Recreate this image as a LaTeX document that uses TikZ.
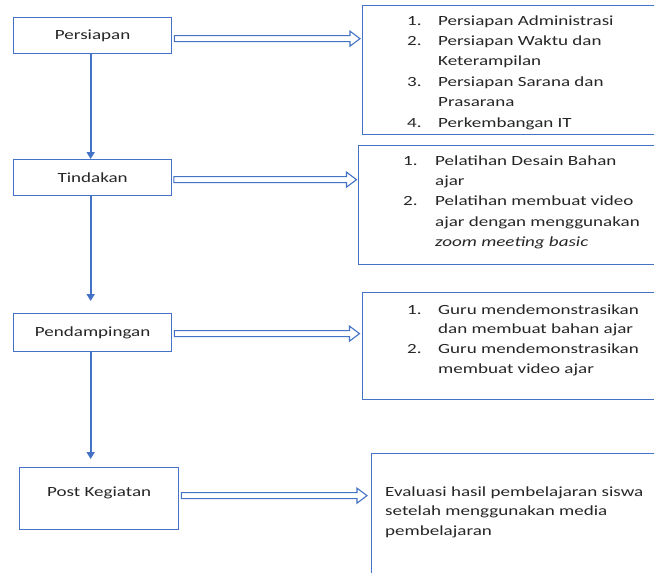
\documentclass[tikz,border=0pt]{standalone}
\usepackage{fontspec}
\setmainfont[FakeStretch=1.36]{Carlito}
\usetikzlibrary{calc,arrows.meta}
\definecolor{ob}{HTML}{4472C4}
\definecolor{txtc}{HTML}{262626}
\newcommand\hollowarr[4]{% start coordinate, target node, start gap, end gap
  \draw[hol] let \p1=(#1), \p2=(#2.west) in
    ({\x1+#3},{\y1+3pt}) -- ({\x2-#4-10pt},{\y1+3pt}) -- ({\x2-#4-10pt},{\y1+7.5pt})
    -- ({\x2-#4},{\y1}) -- ({\x2-#4-10pt},{\y1-7.5pt}) -- ({\x2-#4-10pt},{\y1-3pt})
    -- ({\x1+#3},{\y1-3pt}) -- cycle;}
\begin{document}
\begin{tikzpicture}[x=1pt,y=-1pt,
  box/.style={draw=ob, line width=1.3pt, rectangle, inner sep=0pt, anchor=north west},
  lbl/.style={inner sep=0pt, font=\fontsize{14}{20.4}\selectfont, text=txtc},
  txt/.style={inner sep=0pt, anchor=base west, font=\fontsize{14}{20.4}\selectfont, text=txtc, align=left},
  vline/.style={draw=ob, line width=1.8pt, -{Triangle[length=7pt,width=8pt]}},
  hol/.style={draw=ob, line width=1.1pt, line join=miter}]
\useasboundingbox (0,0) rectangle (654,573);
\fill[white] (0,0) rectangle (654,573);
\clip (0,0) rectangle (654,573);

% left boxes
\node[box, minimum width=158pt, minimum height=36pt] (pers) at (13,17) {};
\node[lbl] (perst) at (pers.center) {Persiapan};
\node[box, minimum width=158pt, minimum height=36pt] (tind) at (13,159) {};
\node[lbl] (tindt) at (tind.center) {Tindakan};
\node[box, minimum width=158pt, minimum height=38pt] (pend) at (13,313) {};
\node[lbl] (pendt) at (pend.center) {Pendampingan};
\node[box, minimum width=159pt, minimum height=62pt] (post) at (19,467) {};
\node[lbl, anchor=base] (postt) at ($(post.north)+(0,29)$) {Post Kegiatan};

% right boxes
\node[box, minimum width=400pt, minimum height=129pt] (b1) at (362,5) {};
\node[box, minimum width=400pt, minimum height=119pt] (b2) at (358,145) {};
\node[box, minimum width=400pt, minimum height=107pt] (b3) at (361.5,292) {};
\node[box, minimum width=400pt, minimum height=200pt] (b4) at (371,453) {};

\node[txt] (t1) at (407,25) {\begin{tabular}[t]{@{}p{31pt}@{}l@{}}
1.&Persiapan Administrasi\\
2.&Persiapan Waktu dan\\
  &Keterampilan\\
3.&Persiapan Sarana dan\\
  &Prasarana\\
4.&Perkembangan IT
\end{tabular}};
\node[txt] (t2) at (403,165) {\begin{tabular}[t]{@{}p{32pt}@{}l@{}}
1.&Pelatihan Desain Bahan\\
  &ajar\\
2.&Pelatihan membuat video\\
  &ajar dengan menggunakan\\
  &\textit{zoom meeting basic}
\end{tabular}};
\node[txt, font=\fontsize{14}{19.9}\selectfont] (t3) at (407,314) {\begin{tabular}[t]{@{}p{31pt}@{}l@{}}
1.&Guru mendemonstrasikan\\
  &dan membuat bahan ajar\\
2.&Guru mendemonstrasikan\\
  &membuat video ajar
\end{tabular}};
\node[txt, font=\fontsize{14}{19.8}\selectfont] (t4) at (385,496) {\begin{tabular}[t]{@{}l@{}}
Evaluasi hasil pembelajaran siswa\\
setelah menggunakan media\\
pembelajaran
\end{tabular}};

% vertical arrows
\draw[vline] ([xshift=-2pt]pers.south) -- ([xshift=-2pt]pers.south |- tind.north);
\draw[vline, shorten >=12pt] ([xshift=-2pt]tind.south) -- ([xshift=-2pt]tind.south |- pend.north);
\draw[vline, shorten >=8pt] ([xshift=-2pt]pend.south) -- ([xshift=-2pt]pend.south |- post.north);

% hollow arrows
\coordinate (s1) at ([yshift=-3pt]pers.east);
\coordinate (s2) at ([yshift=-2pt]tind.east);
\coordinate (s3) at ([yshift=-1pt]pend.east);
\coordinate (s4) at ([yshift=3pt]post.east);
\hollowarr{s1}{b1}{2pt}{2pt}
\hollowarr{s2}{b2}{1.5pt}{1.5pt}
\hollowarr{s3}{b3}{2pt}{2pt}
\hollowarr{s4}{b4}{2pt}{4pt}
\end{tikzpicture}
\end{document}
